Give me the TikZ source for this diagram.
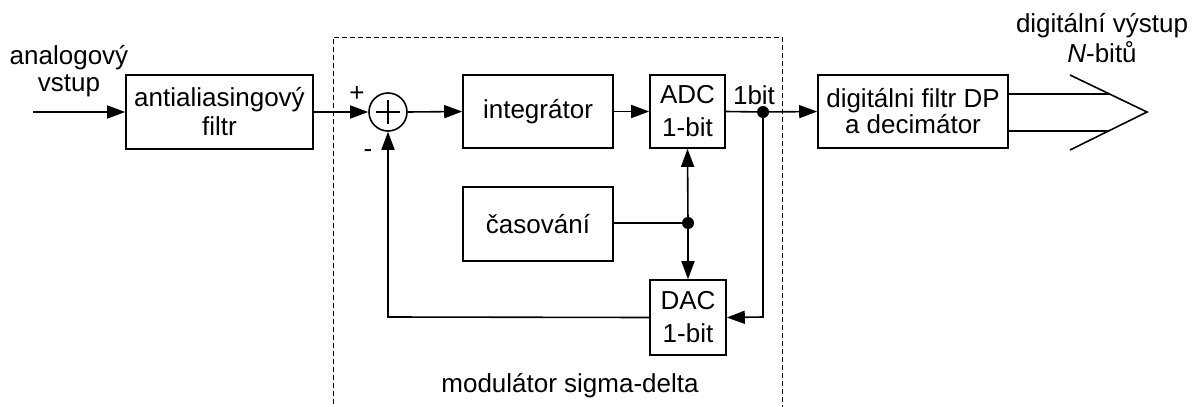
\documentclass[tikz,border=0pt]{standalone}
\usepackage{fontspec}
\setmainfont{Liberation Sans}
\usetikzlibrary{arrows.meta,calc}
\begin{document}
\begin{tikzpicture}[x=1pt,y=-1pt,
  line width=1.6pt,
  every node/.style={font=\fontsize{26}{30}\selectfont, inner sep=0pt},
  blk/.style={draw, rectangle, align=center},
  arr/.style={-{Triangle[length=18pt,width=13pt]}},
  junc/.style={circle, fill=black, draw=none, minimum size=12pt, inner sep=0pt},
  lbl/.style={align=center}
]
\useasboundingbox (0,0) rectangle (1192,407);
% dashed modulator frame
\draw[line width=1pt, dash pattern=on 5pt off 3pt] (333,412) -- (333,37) -- (782,37) -- (782,412);
% blocks
\node[blk, minimum width=187pt, minimum height=74pt, font=\fontsize{26}{29}\selectfont] (aa) at (219.5,112) {antialiasingový\\filtr};
\node[draw, circle, minimum size=38pt] (sum) at (388,112) {};
\draw ($(sum.center)+(-12,0)$) -- ($(sum.center)+(12,0)$);
\draw ($(sum.center)+(0,-12)$) -- ($(sum.center)+(0,12)$);
\node[blk, minimum width=150pt, minimum height=73pt] (int) at (538,111.5) {integrátor};
\node[blk, minimum width=75pt, minimum height=73pt, font=\fontsize{26}{33}\selectfont] (adc) at (687.5,111.5) {ADC\\1-bit};
\node[blk, minimum width=190pt, minimum height=73pt, font=\fontsize{26}{26}\selectfont] (flt) at (913,111.5) {digitálni filtr DP\\a decimátor};
\node[blk, minimum width=150pt, minimum height=74pt] (cas) at (538,224) {časování};
\node[blk, minimum width=76pt, minimum height=75pt, font=\fontsize{26}{33}\selectfont] (dac) at (688,317.5) {DAC\\1-bit};
% junctions and free ends
\coordinate (in) at (33,112);
\node[junc] (j1) at (763,112) {};
\node[junc] (j2) at (688,223) {};
\coordinate (fb1) at (763,317);
\coordinate (fb2) at (388,317);
% connectors
\draw[arr] (in) -- (aa.west);
\draw[arr] (aa.east) -- (sum.west);
\draw[arr] (sum.east) -- (int.west);
\draw[arr] (int.east) -- (adc.west);
\draw (adc.east) -- (j1.center);
\draw[arr] (j1.center) -- (flt.west);
\draw[arr] (j1.center) -- (fb1) -- (dac.east);
\draw (cas.east |- j2) -- (j2.center);
\draw[arr] (j2.center) -- (adc.south);
\draw[arr] (j2.center) -- (dac.north);
\draw[arr] (dac.west) -- (fb2) -- (sum.south);
% output bus
\coordinate (c1) at (1070,75);
\coordinate (c2) at (1147,112);
\coordinate (c3) at (1070,150);
\draw (c1) -- (c2) -- (c3);
\draw (flt.east |- 0,94) -- (1109.5,94);
\draw (flt.east |- 0,131) -- (1108.5,131);
% labels
\node[lbl, anchor=base, font=\fontsize{26}{27}\selectfont] (lin) at (69,91) {analogový\\vstup};
\node[lbl, anchor=base, font=\fontsize{26}{30}\selectfont] (lout) at (1102,62) {digitální výstup\\\textit{N}-bitů};
\node[anchor=base] (l1bit) at (754,104) {1bit};
\node[anchor=base] (lplus) at (357,101) {+};
\node[anchor=base] (lminus) at (368,157) {-};
\node[anchor=base] (lmod) at (570,392) {modulátor sigma-delta};
\end{tikzpicture}
\end{document}
